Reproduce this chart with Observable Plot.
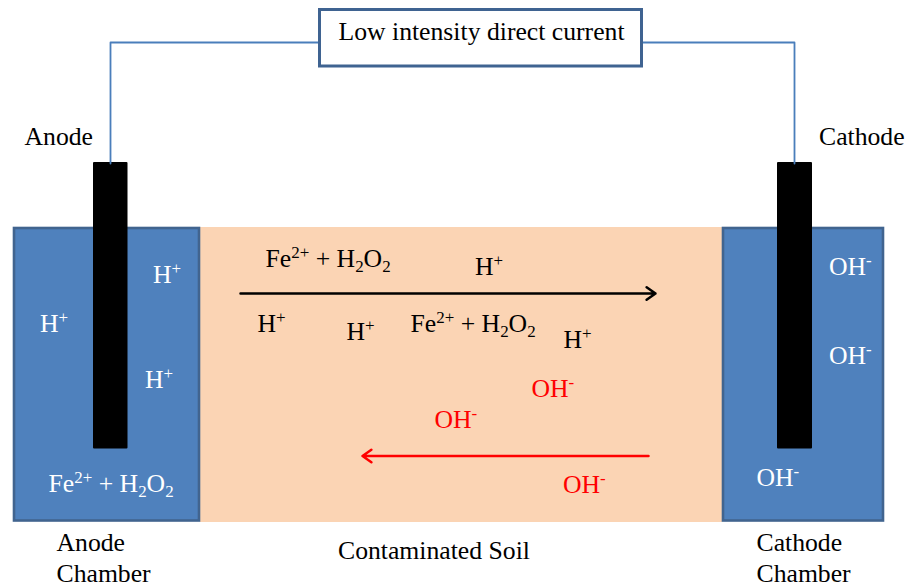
<!DOCTYPE html>
<html><head><meta charset="utf-8">
<script src="https://cdn.jsdelivr.net/npm/d3@7"></script>
<script src="https://cdn.jsdelivr.net/npm/@observablehq/plot@0.6"></script>
<style>html,body{margin:0;padding:0;background:#fff}svg{display:block}</style>
</head><body><div id="chart"></div>
<script>
const W = 916, H = 588;
const soil = [{x1:200,x2:722,y1:227,y2:522}];
const chambers = [{x1:14,x2:199,y1:228,y2:520.5},{x1:723,x2:883,y1:228,y2:520.5}];
const electrodes = [{x1:93,x2:127.5,y1:162,y2:448.5},{x1:777,x2:812,y1:162,y2:448.5}];
const source = [{x1:319.5,x2:641.5,y1:9.5,y2:66}];
const wireLeft = [[319,42],[110,42],[110,163]];
const wireRight = [[642,42],[794,42],[794,163]];
const arrows = [
  {x1:240,y1:293,x2:655,y2:293,color:"#000000"},
  {x1:648,y1:455.5,x2:362,y2:455.5,color:"#ff0000"}
];
// ^{..} superscript, _{..} subscript; x = left edge, y = baseline
const blackLabels = [
  ["Low intensity direct current",338,39],["Anode",24,144],["Cathode",818.5,144],
  ["Fe^{2+} + H_{2}O_{2}",265,266],["H^{+}",474.5,274],["H^{+}",257,331],["H^{+}",346,339],
  ["Fe^{2+} + H_{2}O_{2}",410,331],["H^{+}",563,347],
  ["Anode",56,550],["Chamber",56,581],["Contaminated Soil",337.5,558],["Cathode",756,550],["Chamber",756,581]
];
const whiteLabels = [
  ["H^{+}",152.5,282],["H^{+}",39.5,331],["H^{+}",144.5,387],["Fe^{2+} + H_{2}O_{2}",48,491],
  ["OH^{-}",828.5,274],["OH^{-}",828.5,363],["OH^{-}",756,485]
];
const redLabels = [["OH^{-}",531,396],["OH^{-}",434,427],["OH^{-}",562.5,492]];
const FS = 25.7;

const txt = (rows, fill) => Plot.text(rows, {
  x: d => d[1], y: d => d[2], text: d => d[0], fill,
  textAnchor: "start", lineAnchor: "bottom", fontSize: FS
});
const svg = Plot.plot({
  width: W, height: H, margin: 0,
  x: {domain: [0, W], range: [0, W], axis: null},
  y: {domain: [0, H], range: [0, H], axis: null},
  style: {fontFamily: "'Liberation Serif', serif", background: "#fff"},
  marks: [
    Plot.rect(soil, {x1:"x1",x2:"x2",y1:"y1",y2:"y2",fill:"#fbd4b4"}),
    Plot.rect(chambers, {x1:"x1",x2:"x2",y1:"y1",y2:"y2",fill:"#4f81bd",stroke:"#41648f",strokeWidth:2.6}),
    Plot.rect(electrodes, {x1:"x1",x2:"x2",y1:"y1",y2:"y2",fill:"#000",rx:1}),
    Plot.line(wireLeft, {stroke:"#4a7ebb",strokeWidth:1.8,curve:"linear"}),
    Plot.line(wireRight, {stroke:"#4a7ebb",strokeWidth:1.8,curve:"linear"}),
    Plot.rect(source, {x1:"x1",x2:"x2",y1:"y1",y2:"y2",fill:"#fff",stroke:"#3f6391",strokeWidth:3}),
    Plot.arrow(arrows, {x1:"x1",y1:"y1",x2:"x2",y2:"y2",stroke:"color",strokeWidth:2.5,headLength:6.5,headAngle:70}),
    txt(blackLabels, "#000"), txt(whiteLabels, "#fff"), txt(redLabels, "#ff0000")
  ]
});
// turn the ^{..} and _{..} notation into real super/subscript tspans
svg.querySelectorAll("text").forEach(t => {
  const raw = t.textContent;
  if (!/[\^_]\{/.test(raw)) return;
  t.textContent = "";
  const ns = "http://www.w3.org/2000/svg";
  let shift = 0;
  raw.split(/([\^_]\{[^}]*\})/).filter(Boolean).forEach(part => {
    const m = part.match(/^([\^_])\{(.*)\}$/);
    const s = document.createElementNS(ns, "tspan");
    const small = FS * 0.66;
    const target = m ? (m[1] === "^" ? -FS * 0.33 : FS * 0.2) : 0;
    s.setAttribute("dy", target - shift);
    shift = target;
    if (m) s.setAttribute("font-size", small);
    s.textContent = m ? m[2] : part;
    t.appendChild(s);
  });
});
document.getElementById("chart").appendChild(svg);
</script></body></html>
